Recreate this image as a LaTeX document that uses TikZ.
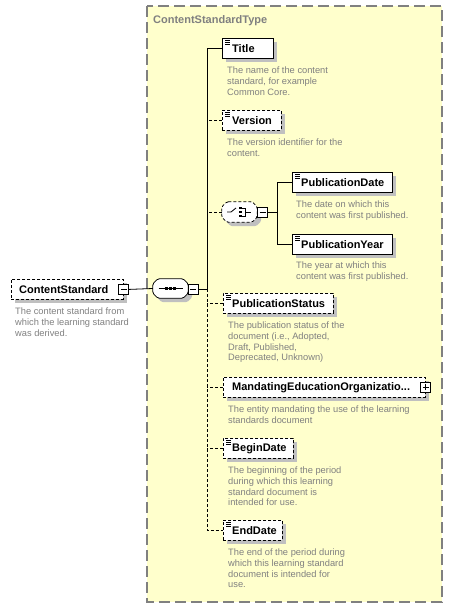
\documentclass[tikz,border=0pt]{standalone}
\usepackage{fontspec}
\setmainfont{Liberation Sans}
\usetikzlibrary{shadows}
\definecolor{typefill}{RGB}{255,255,204}
\definecolor{typeborder}{RGB}{128,128,128}
\definecolor{descgray}{RGB}{128,128,128}
\definecolor{shadowgray}{RGB}{192,192,192}
\tikzset{
  shd/.style={general shadow={fill=shadowgray, shadow xshift=4pt, shadow yshift=-4pt}},
  elem/.style={draw, fill=white, line width=0.8pt, minimum height=20pt, inner sep=0pt, anchor=north west, shd},
  optional/.style={dash pattern=on 3pt off 2pt},
  lbl/.style={font=\fontsize{11}{13}\selectfont\bfseries, anchor=west, inner sep=0pt},
  desc/.style={font=\fontsize{9.3}{10.8}\selectfont, text=descgray, anchor=north west, align=left, inner sep=0pt},
  pm/.style={draw, fill=white, minimum size=10pt, inner sep=0pt, line width=0.8pt},
  wire/.style={line width=0.8pt},
  compo/.style={minimum width=35pt, minimum height=19pt, inner sep=0pt},
}
\newcommand\eqicon[1]{%
  \foreach \dy in {2.5,4.5,6.5}{\draw[line width=0.7pt] ([xshift=3pt,yshift=-\dy pt]#1.north west) -- ([xshift=8pt,yshift=-\dy pt]#1.north west);}}
\newcommand\minusmark[1]{\draw[line width=0.8pt] ([xshift=-3pt]#1.center) -- ([xshift=3pt]#1.center);}
\newcommand\plusmark[1]{\draw[line width=0.8pt] ([xshift=-3pt]#1.center) -- ([xshift=3pt]#1.center) ([yshift=-3pt]#1.center) -- ([yshift=3pt]#1.center);}
\newcommand\octpath[2]{%
  \draw[line width=0.8pt, fill=white, rounded corners=1.5pt, shd, #2]
    ([xshift=5pt]#1.north west) -- ([xshift=-5pt]#1.north east) -- ([yshift=-5pt]#1.north east)
    -- ([yshift=5pt]#1.south east) -- ([xshift=-5pt]#1.south east) -- ([xshift=5pt]#1.south west)
    -- ([yshift=5pt]#1.south west) -- ([yshift=-5pt]#1.north west) -- cycle;}
\begin{document}
\begin{tikzpicture}[x=1pt,y=-1pt]
\useasboundingbox (0,0) rectangle (452,608);
% type box
\draw[fill=typefill, draw=typeborder, line width=1.2pt, dash pattern=on 11pt off 5pt] (147,6) rectangle (442,602);
\node[anchor=base west, inner sep=0pt, text=typeborder, font=\fontsize{11}{13}\selectfont\bfseries] (typename) at (153,23) {ContentStandardType};

% root element
\node[elem, optional, minimum width=112pt] (cs) at (11,279) {};
\node[lbl] (cstxt) at ([xshift=8pt]cs.west) {ContentStandard};
\node[pm] (csm) at (cs.east) {};
\minusmark{csm}
\node[desc] (csd) at (15,307.5) {The content standard from\\which the learning standard\\was derived.};

% sequence compositor
\node[compo] (seq) at (170.5,288.5) {};
\octpath{seq}{}
\draw[line width=0.8pt] ([xshift=-12pt]seq.center) -- ([xshift=12pt]seq.center);
\foreach \dx in {-4,0,4}{\fill ([xshift=\dx pt-1.5pt,yshift=-1.5pt]seq.center) rectangle ([xshift=\dx pt+1.5pt,yshift=1.5pt]seq.center);}
\node[pm] (seqm) at (193,289) {};
\minusmark{seqm}
\draw[wire] (csm.east) -- (seq.west);
\coordinate (spine) at (207,289);
\draw[wire] (seqm.east) -- (spine);

% elements
\node[elem, minimum width=51pt] (title) at (222,38) {};
\eqicon{title}
\node[lbl] at ([xshift=10pt]title.west) {Title};
\node[desc] at (227,66.5) {The name of the content\\standard, for example\\Common Core.};

\node[elem, optional, minimum width=59pt] (version) at (222,110) {};
\eqicon{version}
\node[lbl] at ([xshift=10pt]version.west) {Version};
\node[desc] at (227,138.5) {The version identifier for the\\content.};

% choice compositor
\node[compo, minimum height=20pt] (choice) at (239.5,212) {};
\octpath{choice}{optional}
\draw[line width=0.8pt] (227,212) -- (231,212) -- (236,208);
\foreach \dy in {-4,0,4}{\fill (239,212+\dy-1.2) rectangle (241.5,212+\dy+1.2);}
\draw[line width=0.8pt] (241.5,208) -- (245,208) -- (245,216) -- (241.5,216) (245,212) -- (251,212);
\node[pm] (choicem) at (262.5,212) {};
\minusmark{choicem}
\coordinate (cspine) at (277,212);
\draw[wire] (choicem.east) -- (cspine);

\node[elem, minimum width=100pt] (pubdate) at (292,172) {};
\eqicon{pubdate}
\node[lbl] at ([xshift=9pt]pubdate.west) {PublicationDate};
\node[desc] at (296,200.5) {The date on which this\\content was first published.};

\node[elem, minimum width=100pt] (pubyear) at (292,234) {};
\eqicon{pubyear}
\node[lbl] at ([xshift=9pt]pubyear.west) {PublicationYear};
\node[desc] at (296,261.5) {The year at which this\\content was first published.};

\draw[wire] (cspine) |- (pubdate.west);
\draw[wire] (cspine) |- (pubyear.west);

\node[elem, optional, minimum width=110pt] (pubstatus) at (223,293) {};
\eqicon{pubstatus}
\node[lbl] at ([xshift=9pt]pubstatus.west) {PublicationStatus};
\node[desc] at (228,321.5) {The publication status of the\\document (i.e., Adopted,\\Draft, Published,\\Deprecated, Unknown)};

\node[elem, optional, minimum width=202pt] (mandating) at (223,377) {};
\node[lbl] at ([xshift=9pt]mandating.west) {MandatingEducationOrganizatio...};
\node[pm] (mandp) at (mandating.east) {};
\plusmark{mandp}
\node[desc] at (228,405.5) {The entity mandating the use of the learning\\standards document};

\node[elem, optional, minimum width=70pt] (begindate) at (223,438) {};
\eqicon{begindate}
\node[lbl] at ([xshift=9pt]begindate.west) {BeginDate};
\node[desc] at (228,466.5) {The beginning of the period\\during which this learning\\standard document is\\intended for use.};

\node[elem, optional, minimum width=59pt] (enddate) at (223,520) {};
\eqicon{enddate}
\node[lbl] at ([xshift=9pt]enddate.west) {EndDate};
\node[desc] at (228,548.5) {The end of the period during\\which this learning standard\\document is intended for\\use.};

% spine connectors
\draw[wire] (spine) |- (title.west);
\draw[wire, optional] (spine) |- (enddate.west);
\draw[wire, optional] (version.west) -- (version.west -| spine);
\draw[wire, optional] (choice.west) -- (choice.west -| spine);
\draw[wire, optional] (pubstatus.west) -- (pubstatus.west -| spine);
\draw[wire, optional] (mandating.west) -- (mandating.west -| spine);
\draw[wire, optional] (begindate.west) -- (begindate.west -| spine);
\end{tikzpicture}
\end{document}
